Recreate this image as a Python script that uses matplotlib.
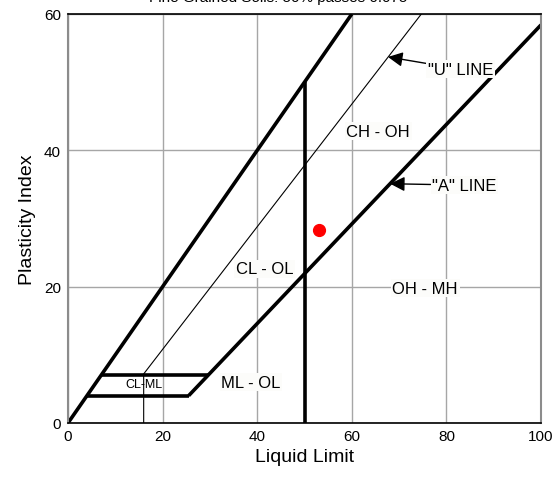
import matplotlib
matplotlib.use("Agg")
import matplotlib.pyplot as plt

plt.rcParams['font.family'] = ['Liberation Sans', 'DejaVu Sans']

# Casagrande plasticity chart - line vertices (Liquid Limit, Plasticity Index)
boundary_ll = [0, 60]
boundary_pi = [0, 60]
u_line_ll = [16, 16, 74.7]
u_line_pi = [0, 7.2, 60]
a_line_ll = [25.5, 100]
a_line_pi = [4, 58.4]
band_low_ll = [4, 25.5]
band_low_pi = [4, 4]
band_high_ll = [7, 29.6]
band_high_pi = [7, 7]
ll50_ll = [50, 50]
ll50_pi = [0, 50]

sample_ll = [53]
sample_pi = [28.3]

zone_labels = ["CH - OH", "CL - OL", "OH - MH", "ML - OL"]
zone_ll = [65.6, 41.5, 75.5, 38.7]
zone_pi = [42.8, 22.6, 19.8, 6.0]

x_ticks = [0, 20, 40, 60, 80, 100]
y_ticks = [0, 20, 40, 60]

fig = plt.figure(figsize=(5.56, 4.81), dpi=100)
ax = fig.add_axes([68 / 556, 57 / 481, 473 / 556, 409 / 481])

ax.set_xlim(0, 100)
ax.set_ylim(0, 60)
ax.set_xticks(x_ticks)
ax.set_yticks(y_ticks)
ax.grid(True, color='#a6a6a6', lw=1)
ax.set_axisbelow(True)
ax.tick_params(length=0, labelsize=11)
ax.tick_params(axis='x', pad=4)
ax.tick_params(axis='y', pad=5)
for side in ['left', 'right']:
    ax.spines[side].set_color('#8c8c8c')
    ax.spines[side].set_linewidth(1.5)
for side in ['top', 'bottom']:
    ax.spines[side].set_color('black')
    ax.spines[side].set_linewidth(1.2)

thick = dict(color='black', lw=2.6, solid_capstyle='butt', zorder=2)
ax.plot(boundary_ll, boundary_pi, **thick)
ax.plot(a_line_ll, a_line_pi, **thick)
ax.plot(band_low_ll, band_low_pi, **thick)
ax.plot(band_high_ll, band_high_pi, **thick)
ax.plot(ll50_ll, ll50_pi, **thick)
ax.plot(u_line_ll, u_line_pi, color='black', lw=0.8, zorder=2)

ax.plot(sample_ll, sample_pi, 'o', color='red', ms=8.5, zorder=4)

box = dict(boxstyle='square,pad=0.1', fc='#fcfcfa', ec='none')
for lab, x, y in zip(zone_labels, zone_ll, zone_pi):
    ax.text(x, y, lab, ha='center', va='center', fontsize=12, bbox=box, zorder=3)
ax.text(16.0, 5.7, "CL-ML", ha='center', va='center', fontsize=9, zorder=1.5)

arrow = dict(arrowstyle='-|>', mutation_scale=22, lw=1, color='black', shrinkA=0, shrinkB=0)
ax.annotate('"U" LINE', xy=(67.65, 53.7), xytext=(76.1, 51.9), ha='left', va='center',
            fontsize=12, bbox=box, arrowprops=arrow, zorder=3)
ax.annotate('"A" LINE', xy=(68.1, 35.1), xytext=(77.0, 34.9), ha='left', va='center',
            fontsize=12, bbox=box, arrowprops=arrow, zorder=3)

ax.set_xlabel("Liquid Limit", fontsize=14, labelpad=4)
ax.set_ylabel("Plasticity Index", fontsize=14, labelpad=6)

fig.text(278 / 556, 479 / 481, "Fine Grained Soils: 50% passes 0.075",
         ha='center', va='baseline', fontsize=11)

fig.savefig("out.png", dpi=100)
